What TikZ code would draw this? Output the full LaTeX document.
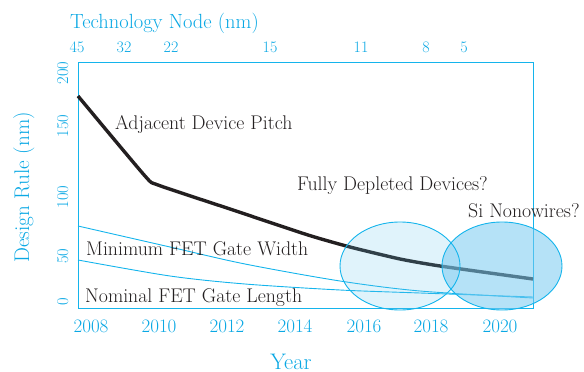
\documentclass[tikz,border=0pt]{standalone}
\usepackage{tikz}
\definecolor{axcyan}{RGB}{10,168,228}
\definecolor{lncyan}{RGB}{20,180,236}
\definecolor{ellA}{RGB}{100,195,235}
\definecolor{ellB}{RGB}{120,202,240}
\definecolor{txtdark}{RGB}{35,31,32}
\tikzset{
  axtext/.style={text=axcyan, inner sep=0pt, font=\fontsize{#1}{#1}\selectfont},
  lbl/.style={text=txtdark, inner sep=0pt, anchor=base west, font=\fontsize{19.8}{22}\selectfont},
  thinline/.style={draw=lncyan, line width=0.9pt},
  ellborder/.style={draw=lncyan, line width=0.9pt},
}
\begin{document}
\begin{tikzpicture}[x=1pt,y=-1pt]
\useasboundingbox (0,0) rectangle (584,372);
% frame
\draw[thinline] (78,62) rectangle (533,308);
% blue curves
\draw[thinline] plot[smooth, tension=0.5] coordinates {(78,226) (170,247) (245,264) (340,281) (420,291) (533,298)};
\draw[thinline] plot[smooth, tension=0.5] coordinates {(78,260) (170,276) (245,284) (340,290) (420,293) (533,297)};
% black curve
\draw[line width=3.4pt, txtdark, line join=round] plot[smooth, tension=0.35] coordinates {(78,96) (145,176) (158,185) (230,209) (308,235) (350,247) (400,259) (440,266) (533,279)};
% ellipses
\fill[ellA, opacity=0.2] (400,266) ellipse [x radius=60, y radius=44];
\fill[ellB, opacity=0.55] (502,266) ellipse [x radius=60, y radius=44];
\draw[ellborder] (400,266) ellipse [x radius=60, y radius=44];
\draw[ellborder] (502,266) ellipse [x radius=60, y radius=44];
% titles
\node[axtext=20.5, anchor=base west] (ttop) at (70,28) {Technology Node (nm)};
\node[axtext=22.5, anchor=base] (tyear) at (291,369) {Year};
\node[axtext=21.2, anchor=base west, rotate=90] (tdes) at (29,263) {Design Rule (nm)};
% top ticks
\foreach \x/\t [count=\i] in {77/45,124/32,171/22,270/15,361/11,426/8,464/5}
  \node[axtext=16, anchor=base] (tn\i) at (\x,52) {\t};
% bottom ticks
\foreach \x/\t [count=\i] in {91/2008,159/2010,227/2012,295/2014,364/2016,431/2018,500/2020}
  \node[axtext=19, anchor=base] (by\i) at (\x,332) {\t};
% left ticks
\foreach \y/\t [count=\i] in {302/0,256/50,197/100,126/150,73/200}
  \node[axtext=16.5, anchor=base, rotate=90] (ly\i) at (68,\y) {\t};
% labels
\node[lbl] (l1) at (115,129) {Adjacent Device Pitch};
\node[lbl] (l2) at (86,255) {Minimum FET Gate Width};
\node[lbl] (l3) at (85,302) {Nominal FET Gate Length};
\node[lbl] (l4) at (297,190) {Fully Depleted Devices?};
\node[lbl] (l5) at (468,217) {Si Nonowires?};
\end{tikzpicture}
\end{document}
